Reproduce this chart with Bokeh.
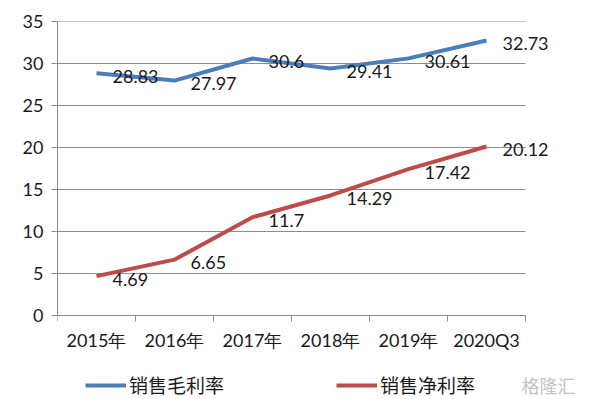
from bokeh.plotting import figure
from bokeh.models import ColumnDataSource, FixedTicker, Legend, LegendItem, LinearAxis, Range1d, Label
from bokeh.core.properties import value
from bokeh.embed import file_html
from bokeh.resources import INLINE

categories = ["2015年", "2016年", "2017年", "2018年", "2019年", "2020Q3"]
gross_margin = [28.83, 27.97, 30.6, 29.41, 30.61, 32.73]
net_margin = [4.69, 6.65, 11.7, 14.29, 17.42, 20.12]
series_names = ["销售毛利率", "销售净利率"]
y_ticks = [0, 5, 10, 15, 20, 25, 30, 35]

n = len(categories)
xs = [i + 0.5 for i in range(n)]
src = ColumnDataSource(dict(
    x=xs, g=gross_margin, n=net_margin,
    gl=[f"{v:g}" for v in gross_margin],
    nl=[f"{v:g}" for v in net_margin],
))

FONT = "Lato"
CJK = "Noto Sans CJK SC"
BLUE = "#4A7EBB"
RED = "#BE4B48"
GRID = "#8c8c8c"

p = figure(width=598, height=399, output_backend="svg", toolbar_location=None,
           x_range=Range1d(0, n * 541 / 468), y_range=Range1d(-10, y_ticks[-1]),
           min_border_left=57, min_border_right=0, min_border_top=21, min_border_bottom=0)
p.outline_line_color = None
p.background_fill_color = "white"
p.grid.grid_line_color = None

# horizontal grid lines limited to the category span
p.segment(x0=[0] * len(y_ticks), x1=[n] * len(y_ticks), y0=y_ticks, y1=y_ticks,
          line_color=GRID, line_width=1)

# y axis
p.yaxis.ticker = FixedTicker(ticks=y_ticks)
p.yaxis.bounds = (y_ticks[0], y_ticks[-1])
p.yaxis.axis_line_color = GRID
p.yaxis.major_tick_line_color = GRID
p.yaxis.major_tick_out = 6
p.yaxis.major_tick_in = 0
p.yaxis.minor_tick_line_color = None
p.yaxis.major_label_text_font = FONT
p.yaxis.major_label_text_font_size = "18px"
p.yaxis.major_label_text_color = "#1a1a1a"
p.yaxis.major_label_standoff = 8

# x axis at y=0 with ticks between categories
p.xaxis.fixed_location = 0
p.xaxis.bounds = (0, n)
p.xaxis.ticker = FixedTicker(ticks=list(range(n + 1)))
p.xaxis.major_label_overrides = {i: "" for i in range(n + 1)}
p.xaxis.axis_line_color = GRID
p.xaxis.major_tick_line_color = GRID
p.xaxis.major_tick_out = 6
p.xaxis.major_tick_in = 0
p.xaxis.minor_tick_line_color = None

# category labels
cat_axis = LinearAxis(ticker=FixedTicker(ticks=xs), fixed_location=0,
                      major_label_overrides={x: c for x, c in zip(xs, categories)})
cat_axis.axis_line_color = None
cat_axis.major_tick_line_color = None
cat_axis.minor_tick_line_color = None
cat_axis.major_label_text_font = FONT
cat_axis.major_label_text_font_size = "18px"
cat_axis.major_label_text_color = "#1a1a1a"
cat_axis.major_label_standoff = 7
p.add_layout(cat_axis, "below")

r1 = p.line("x", "g", source=src, line_color=BLUE, line_width=4)
r2 = p.line("x", "n", source=src, line_color=RED, line_width=4)

for lab, ycol in [("gl", "g"), ("nl", "n")]:
    p.text("x", ycol, text=lab, source=src, x_offset=16, y_offset=3,
           text_font=value(FONT), text_font_size="18px", text_color="#1a1a1a",
           text_align="left", text_baseline="middle")

legend = Legend(items=[LegendItem(label=series_names[0], renderers=[r1]),
                       LegendItem(label=series_names[1], renderers=[r2])],
                orientation="horizontal", location=(28, 1), spacing=112,
                label_text_font=CJK, label_text_font_size="19px",
                label_text_color="#1a1a1a", glyph_width=41, glyph_height=20,
                label_standoff=3, label_height=20,
                background_fill_alpha=0, border_line_color=None, padding=0, margin=0)
p.add_layout(legend, "center")

wm = Label(x=n - 0.05, y=-8.3, text="格隆汇", text_font=CJK, text_font_size="18px",
           text_color="#c4c4c4", text_baseline="middle")
p.add_layout(wm)

open("out.html", "w").write(file_html(p, INLINE))
